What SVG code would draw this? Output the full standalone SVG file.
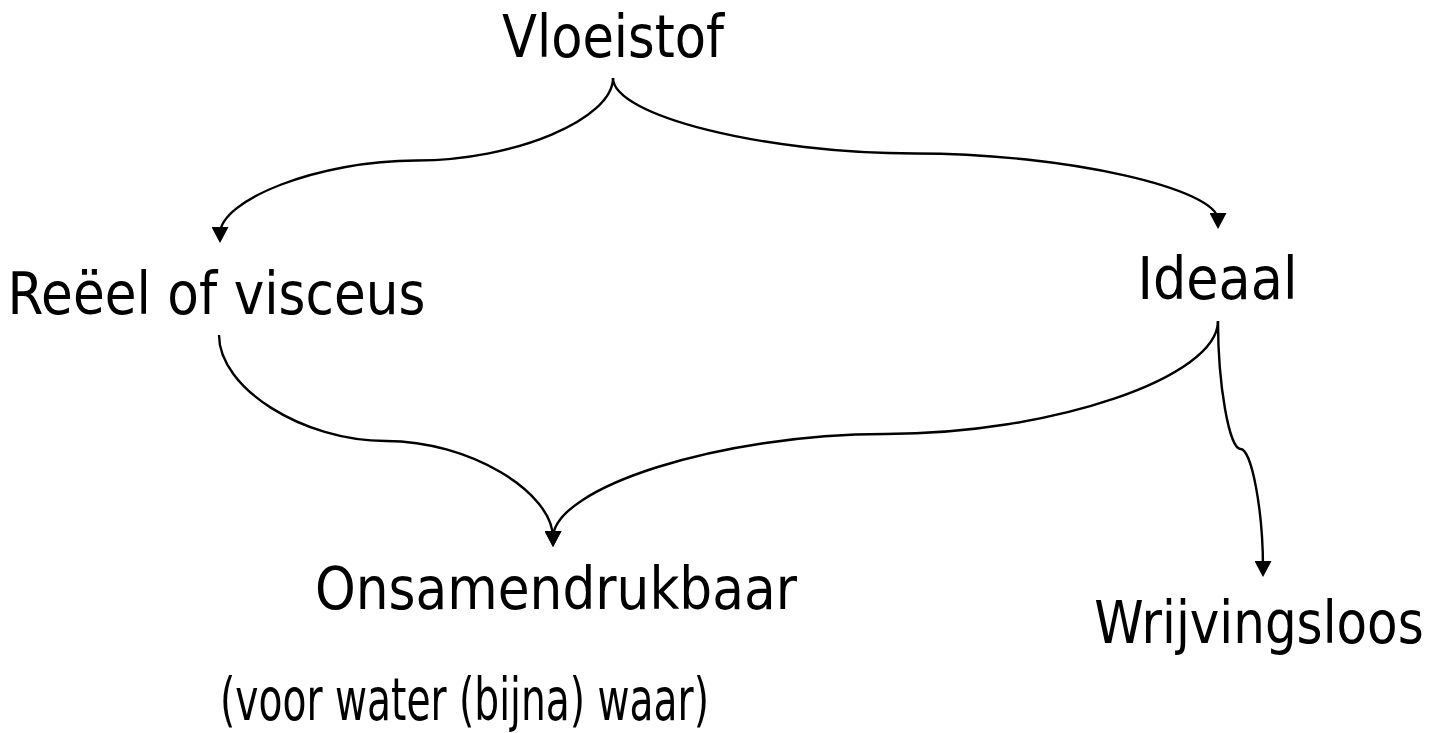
<svg xmlns="http://www.w3.org/2000/svg" width="1439" height="733" viewBox="0 0 1439 733">
  <style>
    .label { font-family: "DejaVu Sans", "Liberation Sans", sans-serif; font-size: 59px; fill: #000; text-anchor: middle; }
    .conn { fill: none; stroke: #000; stroke-width: 2.4; }
  </style>
  <defs>
    <marker id="arrow" markerUnits="userSpaceOnUse" markerWidth="17" markerHeight="17" refX="7" refY="8.5" orient="auto">
      <path d="M0,0 L16,8.5 L0,17 z" fill="#000"/>
    </marker>
  </defs>
  <rect width="1439" height="733" fill="#fff"/>

  <!-- curved connectors: two cubic halves meeting at a level midpoint -->
  <g id="connectors">
    <path class="conn" marker-end="url(#arrow)" d="M613,78 C613,119 515,160.5 416.5,160.5 C318,160.5 220,200 220,234"/>
    <path class="conn" marker-end="url(#arrow)" d="M613,78 C613,115.75 764.25,153.5 915.5,153.5 C1066.75,153.5 1218,189 1218,220"/>
    <path class="conn" marker-end="url(#arrow)" d="M219,335 C219,388 302.5,441 386,441 C469.5,441 553,492 553,538"/>
    <path class="conn" marker-end="url(#arrow)" d="M1218,321 C1218,377.5 1051.75,434 885.5,434 C719.25,434 553,488 553,538"/>
    <path class="conn" marker-end="url(#arrow)" d="M1218,321 C1218,385 1229.25,449 1240.5,449 C1251.75,449 1263,511 1263,568"/>
  </g>

  <g id="node-vloeistof">
    <text class="label" x="613" y="57" textLength="222" lengthAdjust="spacingAndGlyphs">Vloeistof</text>
  </g>
  <g id="node-reeel">
    <text class="label" x="216.5" y="314" textLength="418" lengthAdjust="spacingAndGlyphs">Reëel of visceus</text>
  </g>
  <g id="node-ideaal">
    <text class="label" x="1217.5" y="299" textLength="160" lengthAdjust="spacingAndGlyphs">Ideaal</text>
  </g>
  <g id="node-onsamendrukbaar">
    <text class="label" x="556" y="609" textLength="482" lengthAdjust="spacingAndGlyphs">Onsamendrukbaar</text>
    <text class="label" x="464.5" y="720" textLength="489" lengthAdjust="spacingAndGlyphs">(voor water (bijna) waar)</text>
  </g>
  <g id="node-wrijvingsloos">
    <!-- narrowed horizontally so the word sits inside the right edge -->
    <text class="label" transform="translate(1259,643) scale(0.847,1)" x="0" y="0">Wrijvingsloos</text>
  </g>
</svg>
